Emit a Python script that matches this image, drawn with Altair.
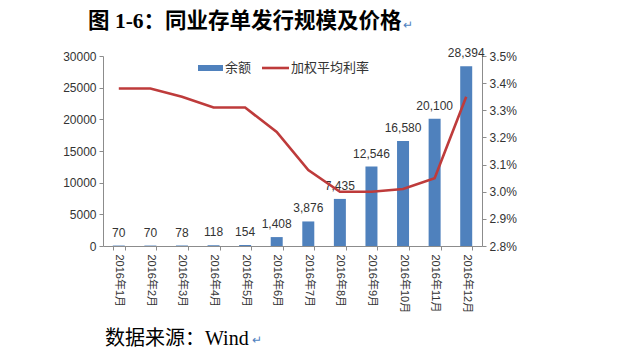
import altair as alt
import pandas as pd

months = ["2016年1月", "2016年2月", "2016年3月", "2016年4月", "2016年5月", "2016年6月",
          "2016年7月", "2016年8月", "2016年9月", "2016年10月", "2016年11月", "2016年12月"]
balances = [70, 70, 78, 118, 154, 1408, 3876, 7435, 12546, 16580, 20100, 28394]
rates = [3.38, 3.38, 3.35, 3.31, 3.31, 3.22, 3.08, 3.00, 3.00, 3.01, 3.05, 3.35]

df = pd.DataFrame({"month": months, "balance": balances, "rate": rates})

SANS = "Liberation Sans, Noto Sans CJK SC"
SERIF = "Liberation Serif, Noto Sans CJK SC"
BLUE = "#4F81BD"
RED = "#BE3B3B"
GRAY = "#8C8C8C"
TXT = "#333333"

x_enc = alt.X("month:N", sort=months, title=None,
              scale=alt.Scale(paddingInner=0.62, paddingOuter=0.31),
              axis=alt.Axis(labelAngle=90, labelAlign="left", labelBaseline="middle",
                            labelFont=SANS, labelFontSize=11, labelColor=TXT,
                            tickBand="extent", tickSize=4, tickColor=GRAY,
                            domainColor=GRAY, labelPadding=4))

y_left = alt.Y("balance:Q", title=None,
               scale=alt.Scale(domain=[0, 30000]),
               axis=alt.Axis(values=[0, 5000, 10000, 15000, 20000, 25000, 30000],
                             format="d", grid=False, labelFont=SANS, labelFontSize=12,
                             labelColor=TXT, tickSize=4, tickColor=GRAY,
                             domainColor=GRAY, labelPadding=3))

base = alt.Chart(df)

bars = base.mark_bar(color=BLUE).encode(x=x_enc, y=y_left)
bar_text = base.mark_text(baseline="bottom", dy=-6, font=SANS, fontSize=12, color=TXT).encode(
    x=x_enc, y=y_left, text=alt.Text("balance:Q", format=",d"))
left_layer = alt.layer(bars, bar_text)

line = base.mark_line(color=RED, strokeWidth=2.6).encode(
    x=x_enc,
    y=alt.Y("rate:Q", title=None,
            scale=alt.Scale(domain=[2.8, 3.5]),
            axis=alt.Axis(orient="right", values=[2.8, 2.9, 3.0, 3.1, 3.2, 3.3, 3.4, 3.5],
                          labelExpr="format(datum.value, '.1f') + '%'", grid=False,
                          labelFont=SANS, labelFontSize=12, labelColor=TXT,
                          tickSize=4, tickColor=GRAY, domainColor=GRAY, labelPadding=3)))

one = alt.Data(values=[{"a": 1}])

leg_rect = alt.Chart(one).mark_rect(color=BLUE).encode(
    x=alt.value(95), x2=alt.value(120), y=alt.value(9), y2=alt.value(15))
leg_t1 = alt.Chart(one).mark_text(align="left", baseline="middle", font=SANS,
                                  fontSize=13, color=TXT).encode(
    x=alt.value(122), y=alt.value(12), text=alt.value("余额"))
leg_line = alt.Chart(one).mark_rule(color=RED, strokeWidth=2.6).encode(
    x=alt.value(159), x2=alt.value(186), y=alt.value(12))
leg_t2 = alt.Chart(one).mark_text(align="left", baseline="middle", font=SANS,
                                  fontSize=13, color=TXT).encode(
    x=alt.value(188), y=alt.value(12), text=alt.value("加权平均利率"))

title = alt.Chart(one).mark_text(align="left", baseline="middle", font=SERIF,
                                 fontSize=21.5, fontWeight="bold", color="#000000").encode(
    x=alt.value(-15), y=alt.value(-34), text=alt.value("图 1-6：同业存单发行规模及价格"))
title_mark = alt.Chart(one).mark_text(align="left", baseline="middle", font=SANS,
                                      fontSize=12, color="#4F7FC0").encode(
    x=alt.value(300), y=alt.value(-31), text=alt.value("↵"))
footer = alt.Chart(one).mark_text(align="left", baseline="middle", font=SERIF,
                                  fontSize=20, color="#000000").encode(
    x=alt.value(2), y=alt.value(283), text=alt.value("数据来源：Wind"))
footer_mark = alt.Chart(one).mark_text(align="left", baseline="middle", font=SANS,
                                       fontSize=12, color="#4F7FC0").encode(
    x=alt.value(149), y=alt.value(284), text=alt.value("↵"))

chart = alt.layer(left_layer, line, leg_rect, leg_t1, leg_line, leg_t2,
                  title, title_mark, footer, footer_mark).resolve_scale(
    y="independent").properties(
    width=379, height=190,
    autosize=alt.AutoSizeParams(type="none"),
    padding={"left": 103, "top": 56, "right": 145, "bottom": 108},
    background="white",
).configure_view(stroke=None)

chart.save("out.html", embed_options={"renderer": "svg", "actions": False})
